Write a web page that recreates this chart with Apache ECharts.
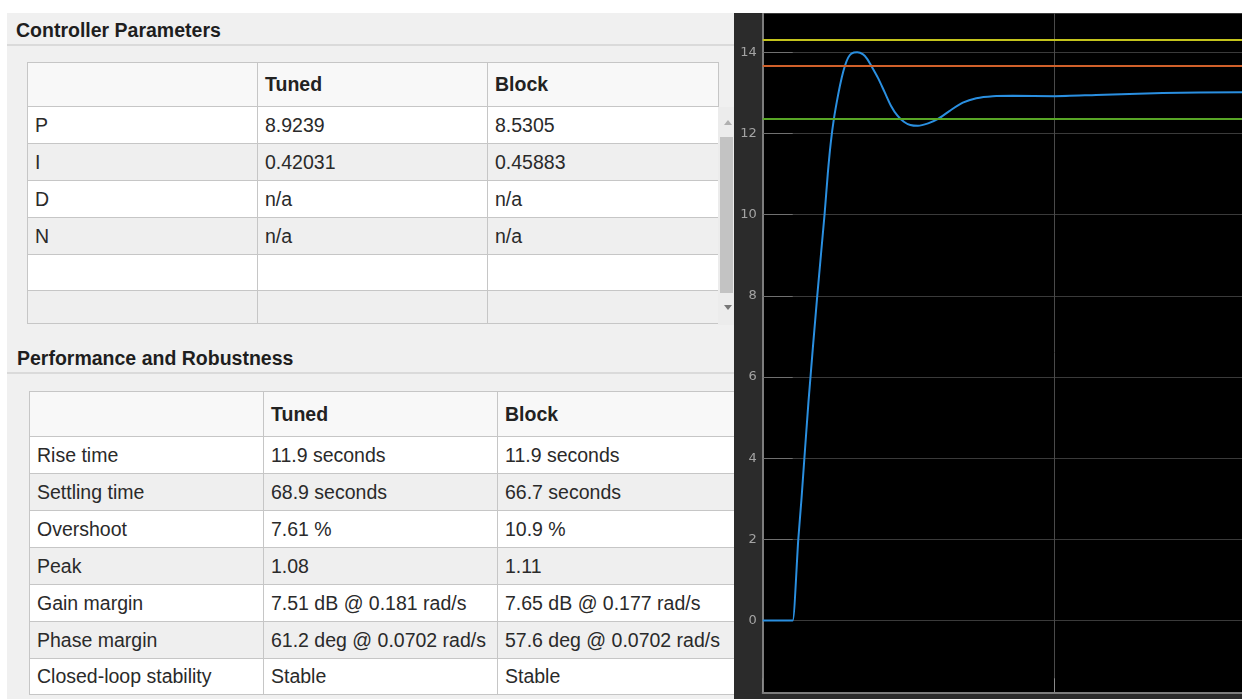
<!DOCTYPE html>
<html>
<head>
<meta charset="utf-8">
<title>PID Tuner</title>
<script src="https://cdn.jsdelivr.net/npm/echarts@6/dist/echarts.min.js"></script>
<style>
    html, body { margin: 0; padding: 0; background: #fff; }
    body { width: 1242px; height: 699px; position: relative; overflow: hidden;
           font-family: "Liberation Sans", Arial, sans-serif; }
    #panel { position: absolute; left: 7px; top: 13px; width: 727px; height: 686px;
             background: #f0f0f0; overflow: hidden; }
    .title { position: absolute; font-weight: bold; font-size: 19.5px; color: #1e1e1e; line-height: 22px; }
    .sep { position: absolute; left: 0; width: 727px; height: 2px; background: #dadada; }
    table { position: absolute; border-collapse: collapse; table-layout: fixed;
            font-size: 19.5px; color: #2a2a2a; border: 1px solid #a4a4a4; }
    td, th { border: 1px solid #c6c6c6; padding: 0 0 0 7px; text-align: left;
             white-space: nowrap; overflow: hidden; }
    th { font-weight: bold; background: #f8f8f8; color: #222; }
    tr.odd td { background: #fff; }
    tr.even td { background: #efefef; }
    #scroll { position: absolute; left: 711px; top: 94px; width: 16px; height: 218px; background: #ececec; }
    #thumb { position: absolute; left: 2px; top: 30px; width: 13px; height: 156px; background: #c3c3c3; }
    .arrow { position: absolute; left: 6px; width: 0; height: 0;
             border-left: 4px solid transparent; border-right: 4px solid transparent; }
    #up { top: 13px; border-bottom: 5px solid #b0b0b0; }
    #down { top: 198px; border-top: 5px solid #777; }
    #scope { position: absolute; left: 734px; top: 13px; width: 508px; height: 686px; background: #2b2b2b; }
</style>
</head>
<body>
<div id="panel">
    <div class="title" style="left:9px; top:6px;">Controller Parameters</div>
    <div class="sep" style="top:31px;"></div>
    <table id="ctrlTable" style="left:20px; top:49px; width:691px;"></table>
    <div id="scroll"><div id="up" class="arrow"></div><div id="thumb"></div><div id="down" class="arrow"></div></div>
    <div class="title" style="left:10px; top:334px;">Performance and Robustness</div>
    <div class="sep" style="top:359px;"></div>
    <table id="perfTable" style="left:22px; top:378px; width:710px;"></table>
</div>
<div id="scope"></div>

<script>
// table contents
const tableHeader = ['', 'Tuned', 'Block'];
const ctrlNames = ['P', 'I', 'D', 'N', '', ''];
const ctrlTuned = ['8.9239', '0.42031', 'n/a', 'n/a', '', ''];
const ctrlBlock = ['8.5305', '0.45883', 'n/a', 'n/a', '', ''];
const perfNames = ['Rise time', 'Settling time', 'Overshoot', 'Peak', 'Gain margin', 'Phase margin', 'Closed-loop stability'];
const perfTuned = ['11.9 seconds', '68.9 seconds', '7.61 %', '1.08', '7.51 dB @ 0.181 rad/s', '61.2 deg @ 0.0702 rad/s', 'Stable'];
const perfBlock = ['11.9 seconds', '66.7 seconds', '10.9 %', '1.11', '7.65 dB @ 0.177 rad/s', '57.6 deg @ 0.0702 rad/s', 'Stable'];

// step response
const stepTime = [0, 10.0, 10.3, 12.2, 13.3, 15.7, 18.7, 21.2, 22.3, 23.3, 24.4, 25.9, 27.1, 28.2, 29.3, 30.4,
    32.4, 34.4, 35.8, 37.3, 39.6, 41.8, 44.0, 46.2, 48.4, 50.6, 53.2, 56.7, 60.1, 64.1, 68.6, 73.2, 78.9, 85.7,
    100, 114.3, 137.1, 164.3];
const stepValue = [0, 0, 0, 2.0, 3.0, 5.4, 8.0, 10.0, 11.0, 11.75, 12.36, 12.97, 13.38, 13.67, 13.87, 13.97,
    14.0, 13.95, 13.84, 13.66, 13.36, 13.02, 12.68, 12.44, 12.29, 12.21, 12.19, 12.25, 12.36, 12.56, 12.76, 12.87, 12.92, 12.93,
    12.92, 12.95, 13.0, 13.02];
const refLevels = [14.31, 13.67, 12.36];
const refColors = ['#c4c41c', '#d0602a', '#58a626'];

function buildTable(id, names, tuned, block, heights, headHeight, colWidths) {
    let html = '<colgroup>' + colWidths.map(w => '<col style="width:' + w + 'px">').join('') + '</colgroup>';
    html += '<tr style="height:' + headHeight + 'px">' + tableHeader.map(h => '<th>' + h + '</th>').join('') + '</tr>';
    names.forEach(function (n, i) {
        html += '<tr class="' + (i % 2 === 0 ? 'odd' : 'even') + '" style="height:' + heights[i] + 'px">' +
            '<td>' + n + '</td><td>' + tuned[i] + '</td><td>' + block[i] + '</td></tr>';
    });
    document.getElementById(id).innerHTML = html;
}
buildTable('ctrlTable', ctrlNames, ctrlTuned, ctrlBlock, [37, 37, 37, 37, 36, 33], 44, [230, 230, 231]);
buildTable('perfTable', perfNames, perfTuned, perfBlock, [37, 37, 37, 37, 37, 37, 36], 45, [234, 234, 242]);

const scope = echarts.init(document.getElementById('scope'));
const option = {
    animation: false,
    backgroundColor: '#2b2b2b',
    grid: {
        left: 28.7, right: -1, top: -1, bottom: 6.7,
        show: true, backgroundColor: '#000', borderWidth: 0
    },
    xAxis: {
        type: 'value',
        min: 0, max: 164.3,
        minInterval: 100, maxInterval: 100,
        axisLine: { show: true, onZero: false, lineStyle: { color: '#7d7d7d', width: 2 } },
        axisTick: { show: true, inside: true, length: 14, lineStyle: { color: '#8a8a8a' } },
        axisLabel: { show: false },
        splitLine: { show: true, lineStyle: { color: '#4a4a4a', width: 1 } }
    },
    yAxis: {
        type: 'value',
        min: -1.77, max: 14.97,
        splitNumber: 8,
        minInterval: 2, maxInterval: 2,
        axisLine: { show: true, onZero: false, lineStyle: { color: '#7d7d7d', width: 2 } },
        axisTick: {
            show: true, inside: true, length: 30,
            lineStyle: { color: '#707070', width: 1 }
        },
        axisLabel: {
            color: '#a4a4a4', fontSize: 13, fontFamily: 'DejaVu Sans',
            margin: 6, showMinLabel: false, showMaxLabel: false
        },
        splitLine: { show: true, lineStyle: { color: '#3a3a3a', width: 1 } }
    },
    series: [
        {
            type: 'line',
            data: stepTime.map((t, i) => [t, stepValue[i]]),
            showSymbol: false,
            smooth: 0.25,
            lineStyle: { color: '#2a8fe0', width: 2 },
            markLine: {
                silent: true,
                symbol: 'none',
                label: { show: false },
                lineStyle: { type: 'solid', width: 2 },
                data: refLevels.map((v, i) => ({ yAxis: v, lineStyle: { color: refColors[i] } }))
            }
        }
    ]
};
scope.setOption(option);
window.addEventListener('resize', () => {
    scope.resize();
});
</script>
</body>
</html>
